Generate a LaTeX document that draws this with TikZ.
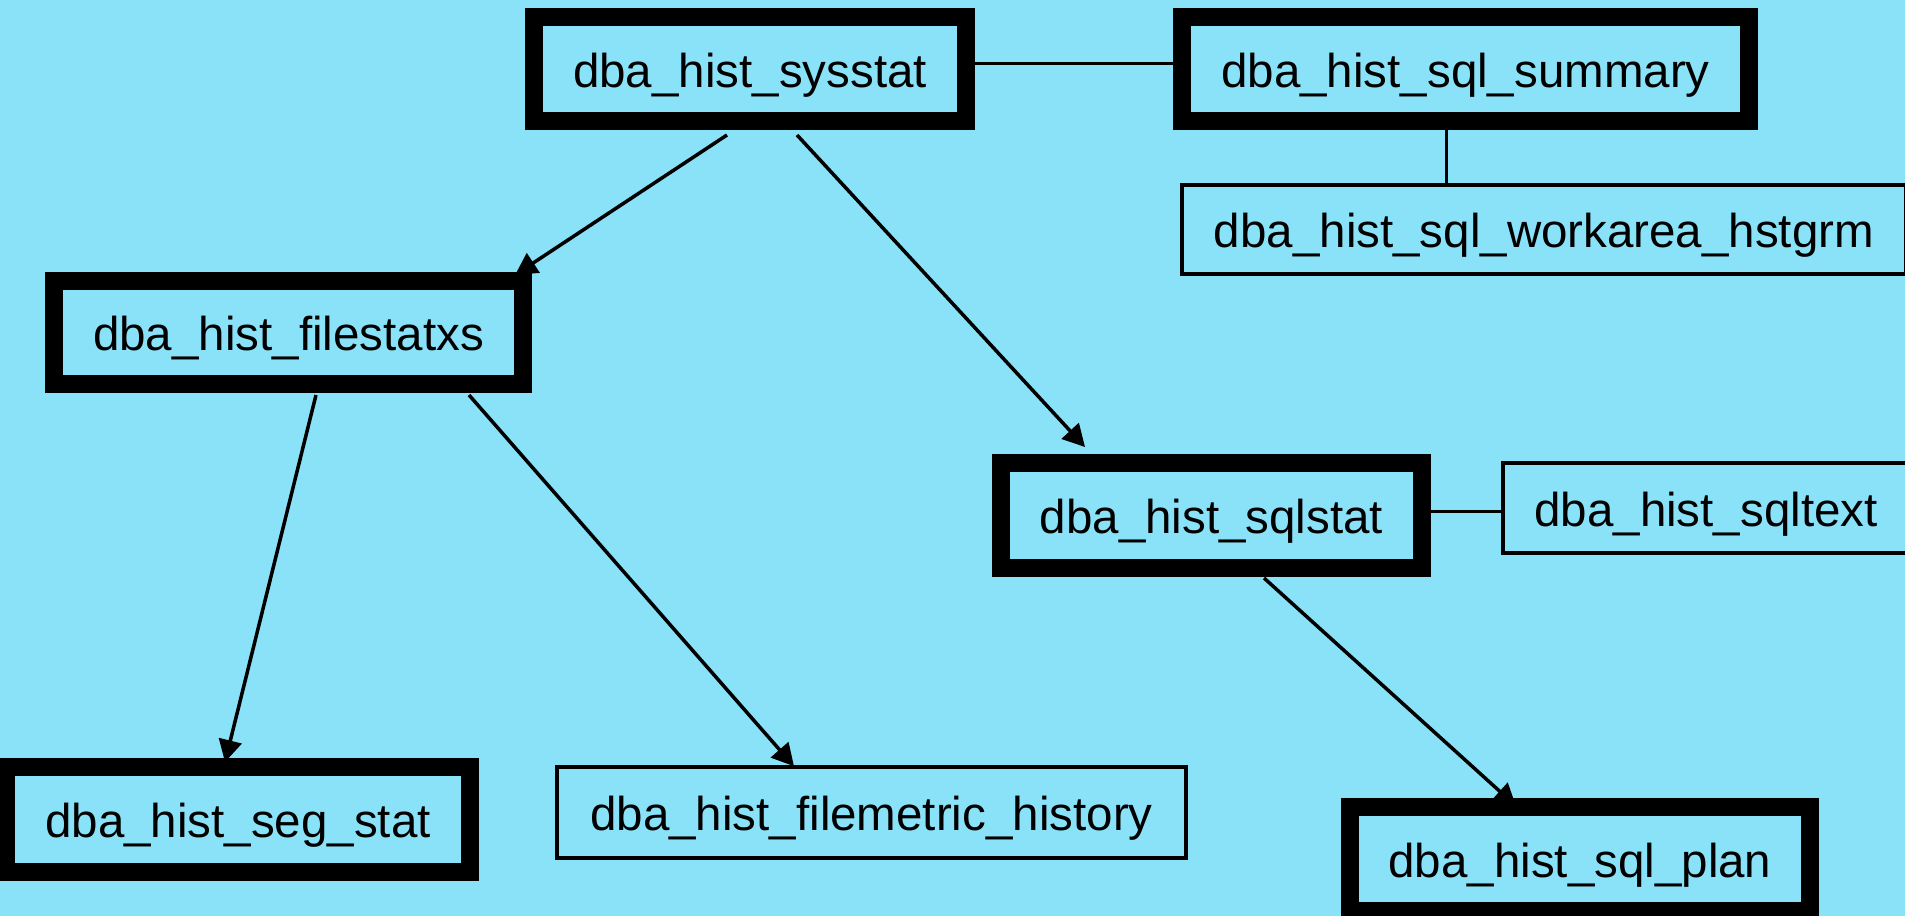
\documentclass[tikz,border=0pt]{standalone}
\usepackage{fontspec}
\setmainfont{Liberation Sans}
\usetikzlibrary{arrows.meta}
\definecolor{bg}{RGB}{138,226,249}
\pgfdeclarelayer{under}
\pgfsetlayers{under,main}
\begin{document}
\begin{tikzpicture}[x=1bp,y=-1bp,
  tbl/.style={draw=black, fill=bg, font=\fontsize{47.5bp}{57bp}\selectfont,
    text height=46bp, text depth=10bp, inner sep=0pt},
  heavy/.style={tbl, line width=18bp},
  light/.style={tbl, line width=3.5bp},
  link/.style={draw=black, line width=3bp},
  arr/.style={draw=black, line width=3.5bp, -{Triangle[width=23bp,length=22bp]}}]
\begin{pgfonlayer}{under}
\fill[bg] (0,0) rectangle (1905,916);
\end{pgfonlayer}
\useasboundingbox (0,0) rectangle (1905,916);

\node[heavy, minimum width=432bp, minimum height=104bp] (sysstat) at (750,69) {dba\_hist\_sysstat};
\node[heavy, minimum width=567bp, minimum height=104bp] (summary) at (1465.5,69) {dba\_hist\_sql\_summary};
\node[light, minimum width=724bp, minimum height=89bp] (workarea) at (1544,229.5) {dba\_hist\_sql\_workarea\_hstgrm};
\node[heavy, minimum width=469bp, minimum height=103bp] (filestatxs) at (288.5,332.5) {dba\_hist\_filestatxs};
\node[heavy, minimum width=421bp, minimum height=105bp] (sqlstat) at (1211.5,515.5) {dba\_hist\_sqlstat};
\node[light, minimum width=406bp, minimum height=90bp] (sqltext) at (1706,508) {dba\_hist\_sqltext};
\node[heavy, minimum width=464bp, minimum height=105bp] (segstat) at (238,819.5) {dba\_hist\_seg\_stat};
\node[light, minimum width=629bp, minimum height=91bp] (filemetric) at (871.5,812.5) {dba\_hist\_filemetric\_history};
\node[heavy, minimum width=460bp, minimum height=104bp] (sqlplan) at (1580,859) {dba\_hist\_sql\_plan};

\begin{pgfonlayer}{under}
\draw[link] ([yshift=6bp]sysstat.east) -- ([yshift=6bp]summary.west);
\draw[link] ([xshift=-19.5bp]summary.south) -- ([xshift=-19.5bp]summary.south |- workarea.north);
\draw[link] ([yshift=4.5bp]sqlstat.east) -- ([yshift=4.5bp]sqlstat.east -| sqltext.west);
\draw[arr] ([shift={(-23bp,-5bp)}]sysstat.south) -- ([shift={(-17bp,-3bp)}]filestatxs.north east);
\draw[arr] ([shift={(47bp,-5bp)}]sysstat.south) -- ([shift={(93bp,7bp)}]sqlstat.north west);
\draw[arr] ([shift={(27.5bp,-2bp)}]filestatxs.south) -- ([shift={(-13bp,-4bp)}]segstat.north);
\draw[arr] ([shift={(180.5bp,-2bp)}]filestatxs.south) -- ([shift={(-77.5bp,-1bp)}]filemetric.north);
\draw[arr] ([shift={(52.5bp,-1bp)}]sqlstat.south) -- ([shift={(-64bp,-8bp)}]sqlplan.north);
\end{pgfonlayer}
\end{tikzpicture}
\end{document}
